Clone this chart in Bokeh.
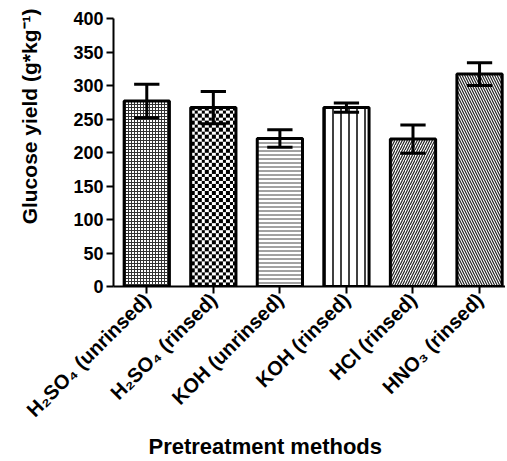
from bokeh.plotting import figure
from bokeh.models import Range1d, FixedTicker, ColumnDataSource, Title
from bokeh.embed import file_html
from bokeh.resources import INLINE
import numpy as np
import math

categories = ["H\u2082SO\u2084 (unrinsed)", "H\u2082SO\u2084 (rinsed)", "KOH (unrinsed)",
              "KOH (rinsed)", "HCl (rinsed)", "HNO\u2083 (rinsed)"]
values = [277, 267, 221, 267, 220, 317]
errors = [25, 24, 13, 7, 21, 17]
y_ticks = [0, 50, 100, 150, 200, 250, 300, 350, 400]

FONT = "Liberation Sans"

hatches = ["cross", " ", "horizontal_line", "vertical_line", "right_diagonal_line", "left_diagonal_line"]
hscale = [3, 8, 4, 8, 5, 5]
hweight = [1, 1, 1, 1.5, 1.2, 1.2]
hcolor = ["#333333", "black", "#444444", "black", "#222222", "#222222"]
BAR_W = 0.68

X0, X1 = -0.5, 5.39
W, H = 505, 459
BL, BT, BB = 113, 18, 173

xs = list(range(len(categories)))
p = figure(width=W, height=H, output_backend="svg", toolbar_location=None,
           x_range=Range1d(X0, X1), y_range=Range1d(0, 400),
           min_border_left=BL, min_border_top=BT, min_border_bottom=BB, min_border_right=0)
p.outline_line_color = None
p.xgrid.visible = False
p.ygrid.visible = False

# checkerboard texture for the second bar, drawn as an image beneath its outline
px_x = (W - BL) / (X1 - X0)
px_y = (H - BT - BB) / 400.0
k = 1
nx = int(round(BAR_W * px_x))
ny = int(round(values[k] * px_y))
ci = np.floor(np.arange(nx) / 3.5).astype(int)
cj = np.floor(np.arange(ny) / 3.5).astype(int)
black = ((ci[None, :] + cj[:, None]) % 2) == 0
img = np.empty((ny, nx), dtype=np.uint32)
view = img.view(dtype=np.uint8).reshape((ny, nx, 4))
view[:, :, 0] = np.where(black, 0, 255)
view[:, :, 1] = np.where(black, 0, 255)
view[:, :, 2] = np.where(black, 0, 255)
view[:, :, 3] = 255
p.image_rgba(image=[img], x=k - BAR_W / 2, y=0, dw=BAR_W, dh=values[k])

for i in xs:
    p.vbar(x=[i], top=[values[i]], bottom=0, width=BAR_W, fill_color="white",
           fill_alpha=0 if i == k else 1,
           line_color="black", line_width=3,
           hatch_pattern=hatches[i], hatch_scale=hscale[i], hatch_weight=hweight[i],
           hatch_color=hcolor[i])

lo = [v - e for v, e in zip(values, errors)]
hi = [v + e for v, e in zip(values, errors)]
src = ColumnDataSource(dict(x=xs, lo=lo, hi=hi, xl=[x - 0.19 for x in xs], xr=[x + 0.19 for x in xs]))
p.segment(x0="x", y0="lo", x1="x", y1="hi", source=src, line_color="black", line_width=3)
p.segment(x0="xl", y0="hi", x1="xr", y1="hi", source=src, line_color="black", line_width=3)
p.segment(x0="xl", y0="lo", x1="xr", y1="lo", source=src, line_color="black", line_width=3)

p.yaxis.ticker = FixedTicker(ticks=y_ticks)
p.xaxis.ticker = FixedTicker(ticks=xs)
p.xaxis.major_label_overrides = {i: c for i, c in enumerate(categories)}
p.xaxis.major_label_orientation = math.pi / 4
for ax in (p.xaxis, p.yaxis):
    ax.axis_line_width = 2
    ax.axis_line_color = "black"
    ax.major_tick_line_width = 2
    ax.major_tick_out = 7
    ax.major_tick_in = 0
    ax.minor_tick_line_color = None
    ax.major_label_text_font = FONT
    ax.major_label_text_font_style = "bold"
    ax.major_label_text_color = "black"
    ax.major_label_standoff = 3
p.yaxis.major_label_text_font_size = "18px"
p.xaxis.major_label_text_font_size = "20px"

p.add_layout(Title(text="Pretreatment methods", align="left", offset=35, standoff=0,
                   text_font=FONT, text_font_style="bold", text_font_size="22px",
                   text_color="black"), "below")
p.add_layout(Title(text="Glucose yield (g*kg\u207B\u00B9)\n ", align="right", offset=-10, standoff=14,
                   text_font=FONT, text_font_style="bold", text_font_size="21px",
                   text_color="black"), "left")

open("out.html", "w").write(file_html(p, INLINE))
